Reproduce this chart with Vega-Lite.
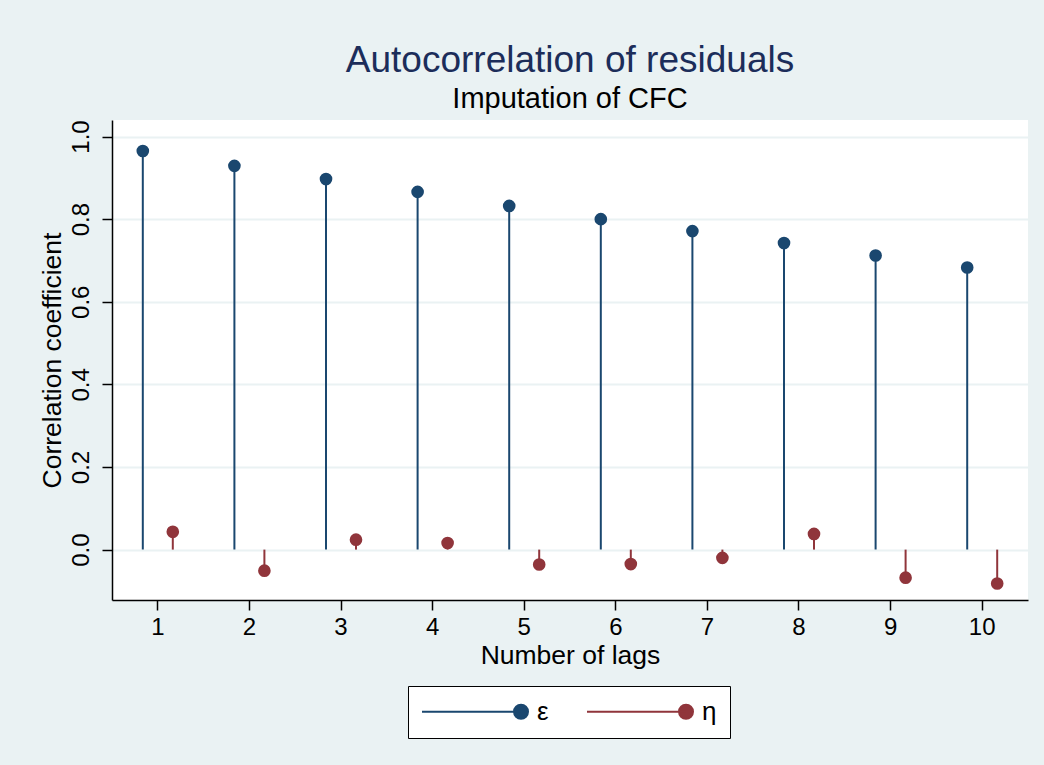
{
  "$schema": "https://vega.github.io/schema/vega-lite/v6.json",
  "width": 916,
  "height": 480,
  "autosize": {"type": "none"},
  "padding": {"left": 112, "top": 120, "right": 16, "bottom": 165},
  "background": "#eaf2f3",
  "title": {
    "text": "Autocorrelation of residuals",
    "subtitle": "Imputation of CFC",
    "anchor": "middle",
    "font": "Liberation Sans",
    "fontSize": 37,
    "fontWeight": "normal",
    "color": "#1c2d5a",
    "subtitleFont": "Liberation Sans",
    "subtitleFontSize": 29,
    "subtitleColor": "#000000",
    "subtitlePadding": 5,
    "offset": 5
  },
  "config": {
    "view": {"fill": "#ffffff", "stroke": null},
    "font": "Liberation Sans"
  },
  "data": {
    "values": [
      {"lag": 1, "series": "ε", "value": 0.965},
      {"lag": 2, "series": "ε", "value": 0.929},
      {"lag": 3, "series": "ε", "value": 0.897},
      {"lag": 4, "series": "ε", "value": 0.866},
      {"lag": 5, "series": "ε", "value": 0.832},
      {"lag": 6, "series": "ε", "value": 0.800},
      {"lag": 7, "series": "ε", "value": 0.771},
      {"lag": 8, "series": "ε", "value": 0.742},
      {"lag": 9, "series": "ε", "value": 0.712},
      {"lag": 10, "series": "ε", "value": 0.683},
      {"lag": 1, "series": "η", "value": 0.043},
      {"lag": 2, "series": "η", "value": -0.051},
      {"lag": 3, "series": "η", "value": 0.024},
      {"lag": 4, "series": "η", "value": 0.016},
      {"lag": 5, "series": "η", "value": -0.036},
      {"lag": 6, "series": "η", "value": -0.035},
      {"lag": 7, "series": "η", "value": -0.020},
      {"lag": 8, "series": "η", "value": 0.038},
      {"lag": 9, "series": "η", "value": -0.068},
      {"lag": 10, "series": "η", "value": -0.082}
    ]
  },
  "encoding": {
    "x": {
      "field": "lag",
      "type": "ordinal",
      "scale": {"paddingInner": 0, "paddingOuter": 0},
      "axis": {
        "title": "Number of lags",
        "labelAngle": 0,
        "labelFontSize": 24,
        "titleFontSize": 26.5,
        "titleFontWeight": "normal",
        "titleColor": "#000000",
        "labelColor": "#000000",
        "domainColor": "#000000",
        "domainWidth": 1.5,
        "tickColor": "#000000",
        "tickWidth": 1.5,
        "tickSize": 10,
        "labelPadding": 5,
        "titlePadding": 3,
        "grid": false
      }
    },
    "xOffset": {
      "field": "series",
      "type": "nominal",
      "scale": {"paddingInner": 0, "paddingOuter": 0.527}
    },
    "y": {
      "field": "value",
      "type": "quantitative",
      "scale": {"domain": [-0.122, 1.04], "nice": false, "zero": false},
      "axis": {
        "title": "Correlation coefficient",
        "values": [0, 0.2, 0.4, 0.6, 0.8, 1.0],
        "format": ".1f",
        "labelAngle": 270,
        "labelAlign": "center",
        "labelBaseline": "bottom",
        "labelFontSize": 24,
        "labelPadding": 9,
        "titleFontSize": 26.5,
        "titleFontWeight": "normal",
        "titleColor": "#000000",
        "labelColor": "#000000",
        "titlePadding": 3,
        "domainColor": "#000000",
        "domainWidth": 1.5,
        "tickColor": "#000000",
        "tickWidth": 1.5,
        "tickSize": 10,
        "grid": true,
        "gridColor": "#eaf2f3",
        "gridWidth": 2
      }
    },
    "color": {
      "field": "series",
      "type": "nominal",
      "scale": {"domain": ["ε", "η"], "range": ["#1a476f", "#90353b"]},
      "legend": {
        "title": null,
        "orient": "none",
        "legendX": 296,
        "legendY": 566,
        "direction": "horizontal",
        "columns": 2,
        "columnPadding": 37,
        "padding": 13,
        "clipHeight": 25,
        "fillColor": "#ffffff",
        "strokeColor": "#000000",
        "labelFontSize": 26,
        "labelColor": "#000000",
        "labelOffset": 8,
        "symbolType": "M -1 0 L 0.868 0 M 1 0 A 0.132 0.132 0 1 1 0.736 0 A 0.132 0.132 0 1 1 1 0 Z",
        "symbolSize": 11236,
        "symbolStrokeWidth": 2,
        "symbolOpacity": 1,
        "encode": {
          "symbols": {
            "update": {
              "fill": {"scale": "color", "field": "value"},
              "stroke": {"scale": "color", "field": "value"},
              "strokeWidth": {"value": 2},
              "opacity": {"value": 1}
            }
          }
        }
      }
    }
  },
  "layer": [
    {
      "mark": {"type": "rule", "strokeWidth": 2},
      "encoding": {
        "y2": {"datum": 0}
      }
    },
    {
      "mark": {"type": "point", "filled": true, "shape": "circle", "size": 160, "opacity": 1}
    }
  ]
}
